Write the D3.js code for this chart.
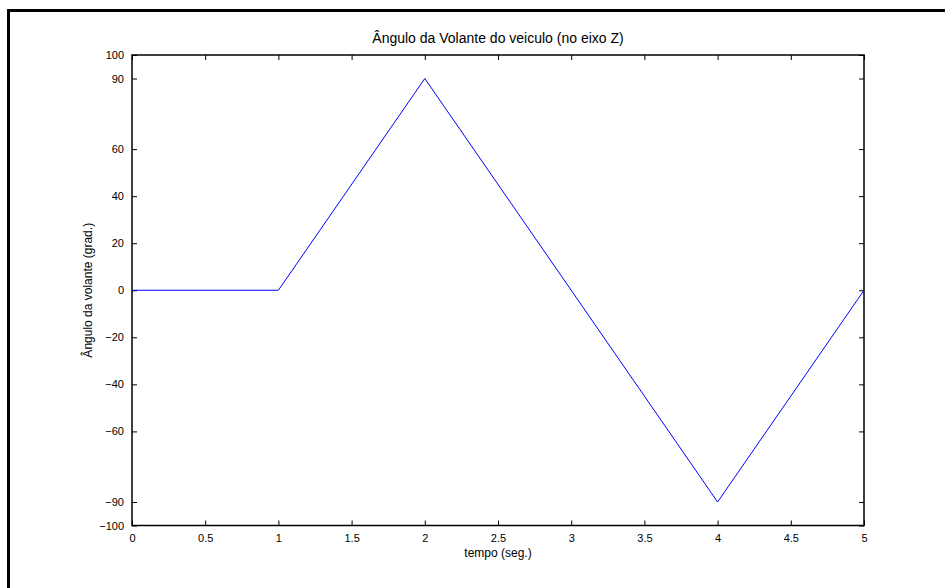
<!DOCTYPE html>
<html>
<head>
<meta charset="utf-8">
<script src="https://cdn.jsdelivr.net/npm/d3@7"></script>
<style>
  html, body { margin: 0; padding: 0; background: #fff; }
  svg { display: block; }
  text { font-family: "Liberation Sans", Arial, sans-serif; fill: #000; }
</style>
</head>
<body>
<svg id="chart" width="945" height="588"></svg>
<script>
// Steering wheel angle over time
const tempo = [0, 1, 2, 4, 5];
const angulo = [0, 0, 90, -90, 0];
const xTicks = [0, 0.5, 1, 1.5, 2, 2.5, 3, 3.5, 4, 4.5, 5];
const yTicks = [100, 90, 60, 40, 20, 0, -20, -40, -60, -90, -100];
const titulo = "Ângulo da Volante do veiculo (no eixo Z)";
const rotuloX = "tempo (seg.)";
const rotuloY = "Ângulo da volante (grad.)";

const svg = d3.select("#chart");
const plot = { left: 132, top: 55, right: 864, bottom: 525.5 };

// figure frame (only top/left edges fall inside the canvas)
svg.append("rect")
  .attr("x", 8.5).attr("y", 10.5)
  .attr("width", 960).attr("height", 600)
  .attr("fill", "none").attr("stroke", "#000").attr("stroke-width", 3);

const x = d3.scaleLinear().domain([0, 5]).range([plot.left, plot.right]);
const y = d3.scaleLinear().domain([-100, 100]).range([plot.bottom, plot.top]);

const tickLen = 5;
const axisStyle = g => {
  g.select(".domain").remove();
  g.selectAll(".tick line").attr("stroke", "#000").attr("stroke-width", 1);
  g.selectAll(".tick text").style("font-size", "11px").style("font-family", '"Liberation Sans", Arial, sans-serif');
};

// bottom axis (inward ticks)
svg.append("g")
  .attr("transform", `translate(0,${plot.bottom})`)
  .call(d3.axisBottom(x).tickValues(xTicks).tickSize(-tickLen).tickPadding(tickLen + 4).tickFormat(d3.format("")))
  .call(axisStyle);
// top axis mirror ticks
svg.append("g")
  .attr("transform", `translate(0,${plot.top})`)
  .call(d3.axisTop(x).tickValues(xTicks).tickSize(-tickLen).tickFormat(""))
  .call(axisStyle);
// left axis
svg.append("g")
  .attr("transform", `translate(${plot.left},0)`)
  .call(d3.axisLeft(y).tickValues(yTicks).tickSize(-tickLen).tickPadding(tickLen + 3).tickFormat(d3.format("")))
  .call(axisStyle);
// right axis mirror ticks
svg.append("g")
  .attr("transform", `translate(${plot.right},0)`)
  .call(d3.axisRight(y).tickValues(yTicks).tickSize(-tickLen).tickFormat(""))
  .call(axisStyle);

// plot box
svg.append("rect")
  .attr("x", plot.left).attr("y", plot.top)
  .attr("width", plot.right - plot.left).attr("height", plot.bottom - plot.top)
  .attr("fill", "none").attr("stroke", "#000").attr("stroke-width", 1.5);

// data line
const line = d3.line().x((d, i) => x(tempo[i])).y(d => y(d));
svg.append("path")
  .datum(angulo)
  .attr("d", line)
  .attr("fill", "none")
  .attr("stroke", "#0000ff")
  .attr("stroke-width", 1);

// title and axis labels
svg.append("text")
  .attr("x", (plot.left + plot.right) / 2).attr("y", 43)
  .attr("text-anchor", "middle").style("font-size", "14px")
  .text(titulo);
svg.append("text")
  .attr("x", (plot.left + plot.right) / 2).attr("y", 557)
  .attr("text-anchor", "middle").style("font-size", "12px")
  .text(rotuloX);
svg.append("text")
  .attr("transform", `translate(92,${(plot.top + plot.bottom) / 2}) rotate(-90)`)
  .attr("text-anchor", "middle").style("font-size", "12px")
  .text(rotuloY);
</script>
</body>
</html>
